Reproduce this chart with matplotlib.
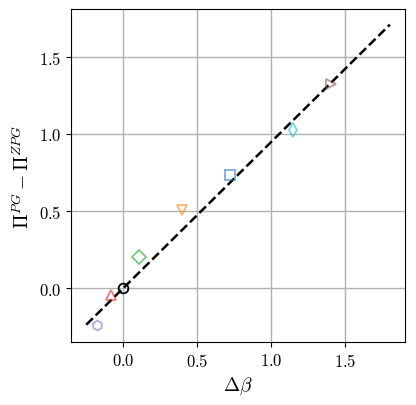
import matplotlib
matplotlib.use("Agg")
import matplotlib.pyplot as plt

plt.rcParams['font.family'] = 'serif'
plt.rcParams['font.serif'] = ['cmr10', 'DejaVu Serif']
plt.rcParams['mathtext.fontset'] = 'cm'
plt.rcParams['axes.formatter.use_mathtext'] = True
plt.rcParams['axes.unicode_minus'] = False

# Data points (delta beta, Pi^PG - Pi^ZPG)
dbeta = [-0.176, -0.081, 0.0, 0.108, 0.399, 0.723, 1.149, 1.405]
dpi_vals = [-0.240, -0.045, 0.0, 0.201, 0.506, 0.734, 1.026, 1.325]
markers = ['h', '^', 'o', 'D', 'v', 's', 'd', '>']
colors = ['tab:purple', 'tab:red', 'black', 'tab:green', 'tab:orange',
          'tab:blue', 'tab:cyan', 'tab:brown']

# Fit line
line_x = [-0.25, 1.8]
line_y = [-0.2375, 1.71]

fig = plt.figure(figsize=(4.16, 4.06), dpi=100)
ax = fig.add_axes([0.171, 0.155, 0.803, 0.820])

ax.plot(line_x, line_y, 'k--', lw=1.8, zorder=3)
for x, y, m, c in zip(dbeta, dpi_vals, markers, colors):
    a = 1.0 if c == 'black' else 0.6
    ax.plot([x], [y], linestyle='none', marker=m, ms=7, mfc='none',
            mec=c, mew=1.3, alpha=a, zorder=4)

ax.set_xlim(-0.352, 1.903)
ax.set_ylim(-0.35, 1.81)
ax.set_xticks([0.0, 0.5, 1.0, 1.5])
ax.set_yticks([0.0, 0.5, 1.0, 1.5])
ax.set_xticklabels([r'$0.0$', r'$0.5$', r'$1.0$', r'$1.5$'])
ax.set_yticklabels([r'$0.0$', r'$0.5$', r'$1.0$', r'$1.5$'])
ax.tick_params(labelsize=12)
ax.grid(True, color='#b0b0b0', lw=1)
ax.set_axisbelow(True)
ax.set_xlabel(r'$\Delta\beta$', fontsize=14)
ax.set_ylabel(r'$\Pi^{PG}-\Pi^{ZPG}$', fontsize=14)

fig.savefig('out.png', dpi=100)
